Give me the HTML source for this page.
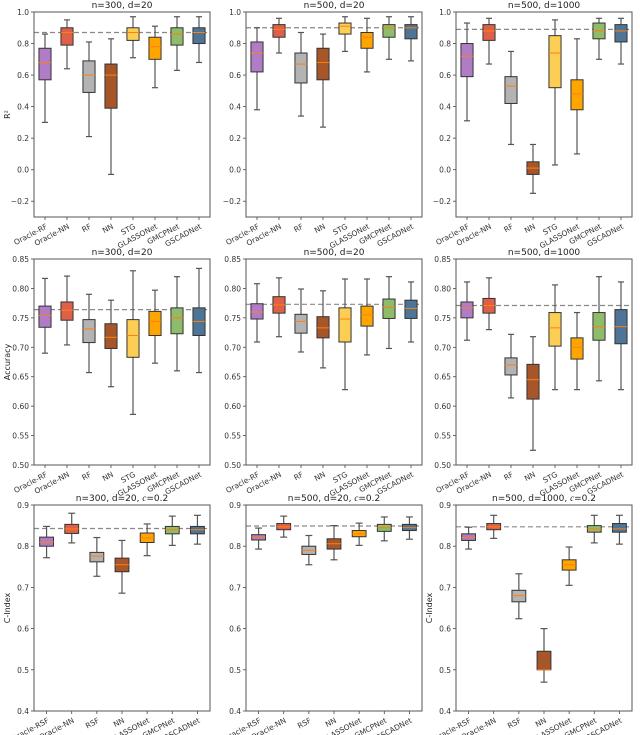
<!DOCTYPE html>
<html><head><meta charset="utf-8"><style>
html,body{margin:0;padding:0;background:#fff;}
svg{display:block;font-family:"DejaVu Sans","Liberation Sans",sans-serif;}
</style></head>
<body>
<svg id="fig" width="640" height="735" viewBox="0 0 640 735" xmlns="http://www.w3.org/2000/svg"></svg>
<script>
// ---- data ----
const catsReg = ["Oracle-RF","Oracle-NN","RF","NN","STG","GLASSONet","GMCPNet","GSCADNet"];
const catsSurv = ["Oracle-RSF","Oracle-NN","RSF","NN","GLASSONet","GMCPNet","GSCADNet"];
const colorsReg = ["#b07cc6","#de6048","#b3b3b3","#a65628","#fcce54","#ffa500","#8fbc6a","#4f7596"];
const colorsSurv = ["#b07cc6","#de6048","#b3b3b3","#a65628","#ffa500","#8fbc6a","#4f7596"];
// [lower whisker, q1, median, q3, upper whisker]
const r2_n300_d20 = [[0.30,0.57,0.68,0.77,0.86],[0.64,0.79,0.87,0.90,0.95],[0.21,0.49,0.60,0.69,0.81],[-0.03,0.39,0.60,0.67,0.83],[0.71,0.82,0.87,0.90,0.97],[0.52,0.70,0.78,0.84,0.91],[0.63,0.79,0.86,0.90,0.97],[0.68,0.80,0.87,0.90,0.97]];
const r2_n500_d20 = [[0.38,0.62,0.74,0.81,0.90],[0.74,0.84,0.89,0.92,0.96],[0.34,0.55,0.67,0.74,0.87],[0.27,0.57,0.68,0.77,0.86],[0.75,0.86,0.91,0.93,0.97],[0.62,0.77,0.84,0.87,0.96],[0.70,0.84,0.90,0.92,0.97],[0.69,0.83,0.90,0.92,0.97]];
const r2_n500_d1000 = [[0.31,0.59,0.72,0.80,0.93],[0.67,0.82,0.88,0.92,0.96],[0.16,0.42,0.53,0.59,0.75],[-0.15,-0.03,0.01,0.05,0.16],[0.03,0.52,0.74,0.85,0.95],[0.10,0.38,0.48,0.57,0.83],[0.70,0.83,0.88,0.93,0.96],[0.67,0.81,0.88,0.92,0.96]];
const acc_n300_d20 = [[0.690,0.734,0.754,0.770,0.817],[0.704,0.746,0.763,0.777,0.821],[0.657,0.708,0.731,0.747,0.790],[0.633,0.698,0.717,0.740,0.780],[0.586,0.683,0.720,0.747,0.830],[0.673,0.720,0.744,0.761,0.797],[0.660,0.723,0.750,0.767,0.820],[0.657,0.720,0.744,0.767,0.834]];
const acc_n500_d20 = [[0.709,0.748,0.760,0.774,0.808],[0.718,0.758,0.772,0.786,0.818],[0.692,0.724,0.744,0.756,0.799],[0.665,0.716,0.733,0.752,0.796],[0.628,0.709,0.748,0.767,0.816],[0.687,0.736,0.755,0.770,0.816],[0.698,0.749,0.768,0.782,0.820],[0.709,0.749,0.766,0.780,0.811]];
const acc_n500_d1000 = [[0.712,0.750,0.767,0.777,0.811],[0.730,0.758,0.771,0.783,0.818],[0.614,0.653,0.670,0.682,0.722],[0.525,0.612,0.645,0.671,0.718],[0.628,0.702,0.733,0.759,0.806],[0.628,0.680,0.700,0.716,0.759],[0.643,0.712,0.735,0.759,0.820],[0.628,0.706,0.735,0.764,0.811]];
const ci_n300_d20 = [[0.772,0.800,0.810,0.822,0.848],[0.808,0.831,0.842,0.853,0.880],[0.727,0.762,0.776,0.785,0.821],[0.686,0.738,0.755,0.771,0.814],[0.777,0.809,0.820,0.832,0.854],[0.802,0.830,0.840,0.848,0.873],[0.805,0.830,0.840,0.848,0.875]];
const ci_n500_d20 = [[0.793,0.815,0.822,0.828,0.844],[0.822,0.840,0.847,0.855,0.873],[0.755,0.780,0.790,0.800,0.826],[0.767,0.793,0.806,0.818,0.850],[0.802,0.823,0.830,0.838,0.856],[0.813,0.836,0.845,0.853,0.871],[0.817,0.838,0.845,0.853,0.871]];
const ci_n500_d1000 = [[0.793,0.814,0.821,0.830,0.846],[0.819,0.840,0.847,0.855,0.875],[0.624,0.665,0.680,0.693,0.733],[0.470,0.500,0.500,0.545,0.600],[0.705,0.742,0.755,0.767,0.798],[0.808,0.834,0.842,0.850,0.875],[0.805,0.834,0.842,0.855,0.875]];
const refLines = [0.87,0.90,0.89,0.764,0.773,0.771,0.843,0.849,0.847];
const titles = ["n=300, d=20","n=500, d=20","n=500, d=1000","n=300, d=20","n=500, d=20","n=500, d=1000","n=300, d=20, ","n=500, d=20, ","n=500, d=1000, "];
const ticksR2 = [-0.2,0.0,0.2,0.4,0.6,0.8,1.0];
const ticksAcc = [0.50,0.55,0.60,0.65,0.70,0.75,0.80,0.85];
const ticksCI = [0.4,0.5,0.6,0.7,0.8,0.9];

// ---- layout ----
const NS="http://www.w3.org/2000/svg";
const svg=document.getElementById('fig');
const lefts=[34,246,456], W=176;
const rows=[
 {top:12,bot:217,min:-0.3,max:1.0,ticks:ticksR2,dec:1,ylabel:"R²",cats:catsReg,cols:colorsReg,data:[r2_n300_d20,r2_n500_d20,r2_n500_d1000]},
 {top:259,bot:465,min:0.5,max:0.85,ticks:ticksAcc,dec:2,ylabel:"Accuracy",cats:catsReg,cols:colorsReg,data:[acc_n300_d20,acc_n500_d20,acc_n500_d1000]},
 {top:505,bot:711,min:0.4,max:0.9,ticks:ticksCI,dec:1,ylabel:"C-Index",cats:catsSurv,cols:colorsSurv,data:[ci_n300_d20,ci_n500_d20,ci_n500_d1000]}
];
function mk(tag,attrs,parent){const e=document.createElementNS(NS,tag);for(const k in attrs)e.setAttribute(k,attrs[k]);(parent||svg).appendChild(e);return e;}
function fmt(v,d){return (v<0?"\u2212":"")+Math.abs(v).toFixed(d);}

rows.forEach((r,ri)=>{
  const ys=v=>r.bot-(v-r.min)/(r.max-r.min)*(r.bot-r.top);
  for(let pi=0;pi<3;pi++){
    const L=lefts[pi], n=r.cats.length, step=W/n;
    const xs=i=>L+(i+0.5)*step;
    const g=mk('g',{});
    
    
    const t=mk('text',{x:L+W/2,y:r.top-4,'text-anchor':'middle','font-size':'9',fill:'#222'},g);
    t.textContent=titles[ri*3+pi];
    if(ri===2){
      const c=mk('tspan',{'font-style':'italic','font-family':'"Liberation Serif",serif'},t);
      c.textContent='c';
      const c2=mk('tspan',{},t);
      c2.textContent='=0.2';
    }
    
    
    r.ticks.forEach(v=>{
      const y=ys(v);
      mk('line',{x1:L-3,x2:L,y1:y,y2:y,stroke:'#444','stroke-width':0.8},g);
      const tl=mk('text',{x:L-5,y:y+3,'text-anchor':'end','font-size':'7.5',fill:'#333'},g);
      tl.textContent=fmt(v,r.dec);
      
      
    });
    if(pi===0||ri===2&&pi===2){
      const yl=mk('text',{x:L-24,y:(r.top+r.bot)/2,'text-anchor':'middle','font-size':'8',fill:'#222',transform:`rotate(-90 ${L-24} ${(r.top+r.bot)/2})`},g);
      yl.textContent=r.ylabel;
      
      
    }
    const ry=ys(refLines[ri*3+pi]);
    const rl=mk('line',{x1:L,x2:L+W,y1:ry,y2:ry,stroke:'#888','stroke-width':1.2,'stroke-dasharray':'5,3'},g);
    
    
    r.data[pi].forEach((s,i)=>{
      const cx=xs(i), bw=step*0.55, cw=bw*0.5;
      const bg=mk('g',{},g);
      
      
      mk('line',{x1:cx,x2:cx,y1:ys(s[0]),y2:ys(s[1]),stroke:'#555','stroke-width':1.2},bg);
      mk('line',{x1:cx,x2:cx,y1:ys(s[3]),y2:ys(s[4]),stroke:'#555','stroke-width':1.2},bg);
      mk('line',{x1:cx-cw/2,x2:cx+cw/2,y1:ys(s[0]),y2:ys(s[0]),stroke:'#555','stroke-width':1.2},bg);
      mk('line',{x1:cx-cw/2,x2:cx+cw/2,y1:ys(s[4]),y2:ys(s[4]),stroke:'#555','stroke-width':1.2},bg);
      mk('rect',{x:cx-bw/2,y:ys(s[3]),width:bw,height:Math.max(1,ys(s[1])-ys(s[3])),fill:r.cols[i],stroke:'#333','stroke-width':1},bg);
      mk('line',{x1:cx-bw/2,x2:cx+bw/2,y1:ys(s[2]),y2:ys(s[2]),stroke:'#ff7f0e','stroke-width':1},bg);
      mk('line',{x1:cx,x2:cx,y1:r.bot,y2:r.bot+3,stroke:'#444','stroke-width':0.8},g);
      const xl=mk('text',{x:cx+3,y:r.bot+11,'text-anchor':'end','font-size':'7.5',fill:'#333',transform:`rotate(-28 ${cx+3} ${r.bot+11})`},g);
      xl.textContent=r.cats[i];
      
      
    });
    const fr=mk('rect',{x:L,y:r.top,width:W,height:r.bot-r.top,fill:'none',stroke:'#555','stroke-width':1},g);
    
    
  }
});
</script>
</body></html>
